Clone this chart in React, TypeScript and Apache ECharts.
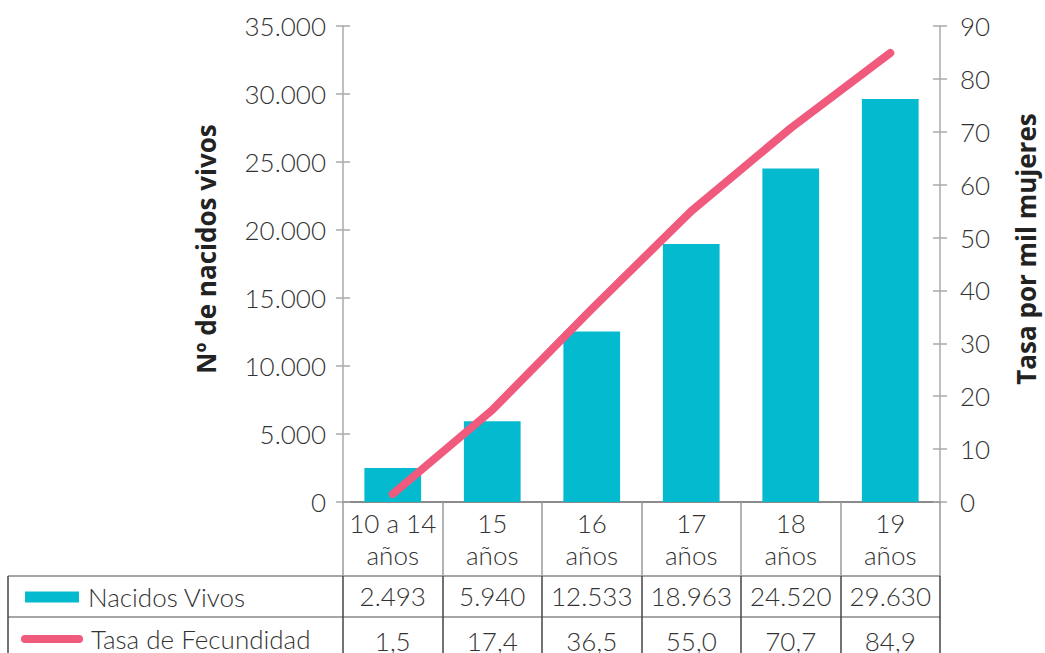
import React, { useEffect, useRef } from "react";
import * as echarts from "echarts";

const categories = ["10 a 14\naños", "15\naños", "16\naños", "17\naños", "18\naños", "19\naños"];
const nacidosVivos = [2493, 5940, 12533, 18963, 24520, 29630];
const tasaFecundidad = [1.5, 17.4, 36.5, 55.0, 70.7, 84.9];
const seriesNames = ["Nacidos Vivos", "Tasa de Fecundidad"];
const leftAxisName = "Nº de nacidos vivos";
const rightAxisName = "Tasa por mil mujeres";

const FONT = "Lato, 'Open Sans', sans-serif";
const BOLD_FONT = "'Open Sans', sans-serif";
const BAR_COLOR = "#04BACF";
const LINE_COLOR = "#F05A7D";
const TEXT = "#333333";

const fmtThousands = (v: number) => String(v).replace(/\B(?=(\d{3})+(?!\d))/g, ".");
const fmtRate = (v: number) => v.toFixed(1).replace(".", ",");

export default function App() {
  const ref = useRef<HTMLDivElement>(null);
  useEffect(() => {
    document.body.style.margin = "0";
    if (!ref.current) return;
    const chart = echarts.init(ref.current, undefined, { renderer: "svg" });
    const label = { fontFamily: FONT, fontSize: 26, color: TEXT, fontWeight: 300 as any };
    const option: any = {
      animation: false,
      grid: { left: 343, right: 105, top: 26, bottom: 151, containLabel: false, outerBoundsMode: "none" },
      legend: [
        {
          data: [{ name: seriesNames[0], icon: "rect" }],
          left: 25, top: 582, padding: 0, itemWidth: 54, itemHeight: 11, selectedMode: false,
          textStyle: { ...label, lineHeight: 30, padding: [0, 0, 0, 4] },
        },
        {
          data: [{ name: seriesNames[1], icon: "path://M4,0 H58 A4,4 0 0 1 58,8 H4 A4,4 0 0 1 4,0 Z" }],
          left: 21, top: 624, padding: 0, itemWidth: 62, itemHeight: 8, selectedMode: false,
          textStyle: { ...label, lineHeight: 30, padding: [0, 0, 0, 3] },
        },
      ],
      xAxis: [
        {
          type: "category", data: categories, position: "bottom",
          axisLine: { show: true, onZero: false, lineStyle: { color: "#666", width: 1.5 } },
          axisTick: { show: true, length: 74, lineStyle: { color: "#9a9a9a", width: 1.5 } },
          axisLabel: { ...label, lineHeight: 32, margin: 5, interval: 0 },
        },
        {
          type: "category", data: nacidosVivos.map(fmtThousands), position: "bottom", offset: 74,
          axisLine: { show: true, onZero: false, lineStyle: { color: "#888", width: 1.5 } },
          axisTick: { show: true, length: 41, lineStyle: { color: "#444", width: 1.5 } },
          axisLabel: { ...label, lineHeight: 30, margin: 5, interval: 0 },
        },
        {
          type: "category", data: tasaFecundidad.map(fmtRate), position: "bottom", offset: 115,
          axisLine: { show: true, onZero: false, lineStyle: { color: "#888", width: 1.5 } },
          axisTick: { show: true, length: 40, lineStyle: { color: "#444", width: 1.5 } },
          axisLabel: { ...label, lineHeight: 30, margin: 9, interval: 0 },
        },
      ],
      yAxis: [
        {
          type: "value", position: "left", min: 0, max: 35000, interval: 5000, offset: 0,
          axisLine: { show: true, onZero: false, lineStyle: { color: "#aaa", width: 1.5 } },
          axisTick: { show: true, length: 7, lineStyle: { color: "#aaa", width: 1.5 } },
          axisLabel: { ...label, margin: 17, formatter: (v: number) => fmtThousands(v) },
          splitLine: { show: false },
          name: leftAxisName, nameLocation: "middle", nameGap: 124, nameRotate: 90,
          nameTextStyle: { fontFamily: BOLD_FONT, fontSize: 26, fontWeight: "bold", color: "#222", padding: [0, 0, 0, 30] },
        },
        {
          type: "value", position: "right", min: 0, max: 90, interval: 10, offset: 0,
          axisLine: { show: true, onZero: false, lineStyle: { color: "#aaa", width: 1.5 } },
          axisTick: { show: true, length: 7, lineStyle: { color: "#aaa", width: 1.5 } },
          axisLabel: { ...label, margin: 20 },
          splitLine: { show: false },
          name: rightAxisName, nameLocation: "middle", nameGap: 73, nameRotate: 90,
          nameTextStyle: { fontFamily: BOLD_FONT, fontSize: 26, fontWeight: "bold", color: "#222", padding: [0, 0, 0, 30] },
        },
        {
          type: "value", position: "left", min: 0, max: 35000, interval: 5000, offset: 0,
          axisLine: { show: false, onZero: false }, axisLabel: { show: false }, splitLine: { show: false },
          axisTick: { show: true, inside: true, length: 7, lineStyle: { color: "#aaa", width: 1.5 } },
        },
        {
          type: "value", position: "right", min: 0, max: 90, interval: 10, offset: 0,
          axisLine: { show: false, onZero: false }, axisLabel: { show: false }, splitLine: { show: false },
          axisTick: { show: true, inside: true, length: 7, lineStyle: { color: "#aaa", width: 1.5 } },
        },
      ],
      graphic: [
        { type: "line", shape: { x1: 8, y1: 576, x2: 343, y2: 576 }, style: { stroke: "#888", lineWidth: 1.5 } },
        { type: "line", shape: { x1: 8, y1: 617, x2: 343, y2: 617 }, style: { stroke: "#888", lineWidth: 1.5 } },
        { type: "line", shape: { x1: 8, y1: 576, x2: 8, y2: 653 }, style: { stroke: "#444", lineWidth: 1.5 } },
      ],
      series: [
        {
          name: seriesNames[0], type: "bar", data: nacidosVivos, xAxisIndex: 0, yAxisIndex: 0,
          barWidth: "57%", itemStyle: { color: BAR_COLOR },
        },
        {
          name: seriesNames[1], type: "line", data: tasaFecundidad, xAxisIndex: 0, yAxisIndex: 1,
          showSymbol: false, symbol: "none", itemStyle: { color: LINE_COLOR },
          lineStyle: { color: LINE_COLOR, width: 8, cap: "round", join: "round" },
        },
      ],
    };
    chart.setOption(option);
    return () => chart.dispose();
  }, []);
  return <div ref={ref} style={{ width: 1045, height: 653 }} />;
}
